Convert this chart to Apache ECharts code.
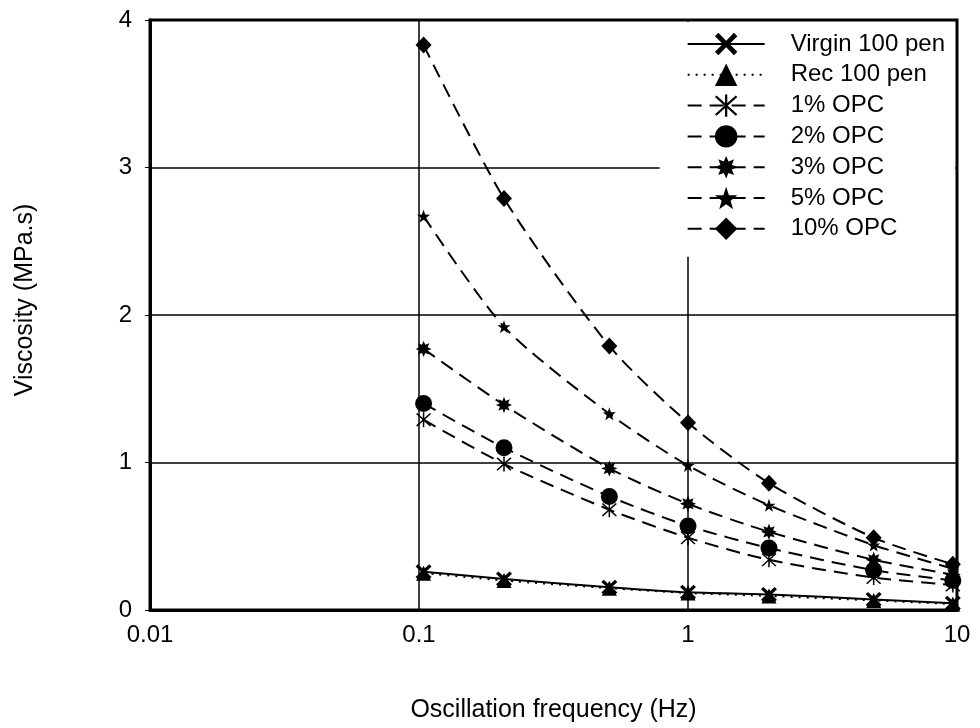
<!DOCTYPE html>
<html>
<head>
<meta charset="utf-8">
<script src="https://cdn.jsdelivr.net/npm/echarts@6/dist/echarts.min.js"></script>
<style>html,body{margin:0;padding:0;background:#fff;overflow:hidden}#c{width:980px;height:728px}</style>
</head>
<body>
<div id="c"></div>
<script>
const freq = [0.104, 0.207, 0.51, 1, 2, 4.9, 9.65];
const seriesNames = ['Virgin 100 pen', 'Rec 100 pen', '1% OPC', '2% OPC', '3% OPC', '5% OPC', '10% OPC'];
const virgin = [0.26, 0.21, 0.155, 0.12, 0.105, 0.072, 0.045];
const rec100 = [0.25, 0.20, 0.148, 0.115, 0.095, 0.065, 0.04];
const opc1 = [1.29, 0.99, 0.68, 0.49, 0.34, 0.22, 0.17];
const opc2 = [1.40, 1.10, 0.77, 0.57, 0.42, 0.27, 0.20];
const opc3 = [1.77, 1.39, 0.96, 0.72, 0.53, 0.34, 0.24];
const opc5 = [2.67, 1.92, 1.33, 0.98, 0.71, 0.44, 0.28];
const opc10 = [3.83, 2.79, 1.79, 1.27, 0.86, 0.49, 0.31];
const yTicks = [0, 1, 2, 3, 4];

function starPath(n, r1, r2) {
  let d = '';
  for (let i = 0; i < 2 * n; i++) {
    const r = i % 2 === 0 ? r1 : r2;
    const a = Math.PI * i / n - Math.PI / 2;
    const x = (20 + r * Math.cos(a)).toFixed(2), y = (20 + r * Math.sin(a)).toFixed(2);
    d += (i === 0 ? 'M' : 'L') + x + ',' + y + ' ';
  }
  return 'path://' + d + 'Z';
}
const symX = 'path://M0,3 L3,0 L10,7 L17,0 L20,3 L13,10 L20,17 L17,20 L10,13 L3,20 L0,17 L7,10 Z';
const symAst = 'path://M9.1,0 L10.9,0 L10.9,20 L9.1,20 Z M1,2.3 L2.3,1 L19,17.7 L17.7,19 Z M17.7,1 L19,2.3 L2.3,19 L1,17.7 Z';
const symBurst = starPath(8, 20, 11);
const symStar = starPath(5, 20, 8);

const dash = [14, 8];
function mk(name, vals, symbol, size, ltype, smooth) {
  return {
    name: name, type: 'line', data: freq.map((f, i) => [f, vals[i]]),
    symbol: symbol, symbolSize: size, showSymbol: true, smooth: smooth,
    lineStyle: { color: '#000', width: 2, type: ltype },
    itemStyle: { color: '#000', borderWidth: 0 },
    z: 3
  };
}
const series = [
  mk(seriesNames[0], virgin, symX, [16, 15], 'solid', 0.2),
  mk(seriesNames[1], rec100, 'triangle', 15, [2, 6], 0.2),
  mk(seriesNames[2], opc1, symAst, 15, dash, 0.25),
  mk(seriesNames[3], opc2, 'circle', 17, dash, 0.25),
  mk(seriesNames[4], opc3, symBurst, 16, dash, 0.25),
  mk(seriesNames[5], opc5, symStar, 13, dash, 0.25),
  mk(seriesNames[6], opc10, 'diamond', [16, 17], dash, 0.25)
];

const chart = echarts.init(document.getElementById('c'), null, { renderer: 'canvas' });
const font = '"Liberation Sans", Arial, sans-serif';
chart.setOption({
  animation: false,
  backgroundColor: '#fff',
  textStyle: { fontFamily: font },
  grid: { left: 150, right: 23, top: 20, bottom: 115, show: true, borderColor: '#000', borderWidth: 3, backgroundColor: 'transparent' },
  legend: {
    data: seriesNames,
    orient: 'vertical',
    right: 25, top: 22,
    backgroundColor: '#fff',
    padding: [10, 10, 16, 27],
    itemWidth: 77, itemHeight: 28, itemGap: 6.8,
    textStyle: { fontSize: 24, color: '#000', fontFamily: font, padding: [0, 0, 0, 21] },
    inactiveColor: '#000',
    z: 10
  },
  xAxis: {
    type: 'log', logBase: 10, min: 0.01, max: 10,
    name: 'Oscillation frequency (Hz)', nameLocation: 'middle', nameGap: 88,
    nameTextStyle: { fontSize: 25, color: '#000', fontFamily: font },
    axisLine: { show: true, lineStyle: { color: '#000', width: 3 } },
    axisTick: { show: false },
    axisLabel: { fontSize: 24, color: '#000', margin: 13, fontFamily: font,
      formatter: v => String(+v.toPrecision(3)) },
    splitLine: { show: true, lineStyle: { color: '#000', width: 1.5 } },
    minorTick: { show: false }
  },
  yAxis: {
    type: 'value', min: 0, max: 4, interval: 1,
    name: 'Viscosity (MPa.s)', nameLocation: 'middle', nameGap: 112,
    nameTextStyle: { fontSize: 25, color: '#000', fontFamily: font, padding: [0, 0, 0, 30] },
    axisLine: { show: true, lineStyle: { color: '#000', width: 3 } },
    axisTick: { show: true, length: 5, lineStyle: { color: '#000', width: 1 } },
    axisLabel: { fontSize: 24, color: '#000', margin: 18, fontFamily: font,
      formatter: v => yTicks.indexOf(v) >= 0 ? String(v) : '' },
    splitLine: { show: true, lineStyle: { color: '#000', width: 1.5 } }
  },
  series: series
});
</script>
</body>
</html>
